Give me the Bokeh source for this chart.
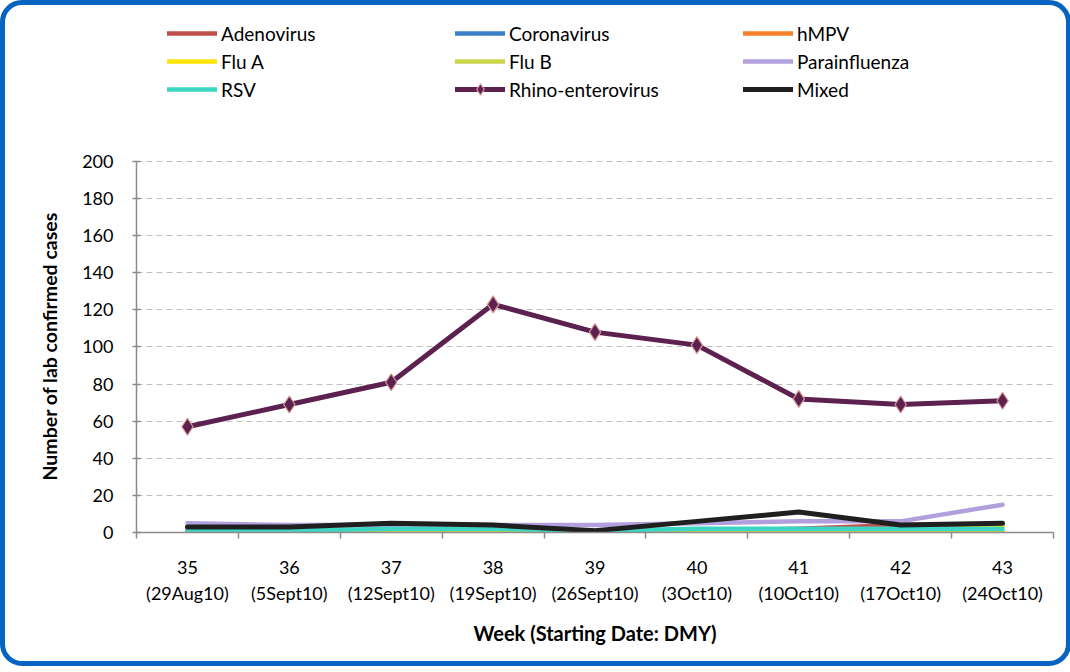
from bokeh.plotting import figure
from bokeh.models import (Legend, LegendItem, LinearAxis, FixedTicker, Range1d, Grid, Title)
from bokeh.embed import file_html
from bokeh.resources import INLINE

# ---- data ----
weeks = [35, 36, 37, 38, 39, 40, 41, 42, 43]
week_labels = ["35", "36", "37", "38", "39", "40", "41", "42", "43"]
date_labels = ["(29Aug10)", "(5Sept10)", "(12Sept10)", "(19Sept10)", "(26Sept10)",
               "(3Oct10)", "(10Oct10)", "(17Oct10)", "(24Oct10)"]
y_ticks = [0, 20, 40, 60, 80, 100, 120, 140, 160, 180, 200]

adenovirus = [1, 1, 1, 1, 0, 1, 2, 4, 4]
coronavirus = [0, 0, 0, 0, 0, 0, 0, 0, 0]
hmpv = [0, 0, 0, 0, 0, 0, 0, 0, 0]
flu_a = [0, 0, 0, 0, 0, 0, 0, 1, 3]
flu_b = [0, 0, 0, 0, 0, 0, 0, 0, 0]
parainfluenza = [5, 4, 4, 4, 4, 5, 6, 6, 15]
rsv = [1, 1, 2, 2, 1, 2, 2, 2, 2]
rhino_enterovirus = [57, 69, 81, 123, 108, 101, 72, 69, 71]
mixed = [3, 3, 5, 4, 1, 6, 11, 4, 5]

series_names = ["Adenovirus", "Coronavirus", "hMPV", "Flu A", "Flu B",
                "Parainfluenza", "RSV", "Rhino-enterovirus", "Mixed"]
series_values = [adenovirus, coronavirus, hmpv, flu_a, flu_b,
                 parainfluenza, rsv, rhino_enterovirus, mixed]
series_colors = ["#C0504D", "#3B7FCB", "#F5822A", "#FFE600", "#C9D64B",
                 "#B29FDE", "#3CD6C3", "#5D2150", "#1F1F1F"]

FONT = "Lato"
TICK_FS = "18px"

# The plotting frame extends above the 0-200 axis so that the legend (drawn
# inside the frame) can sit in the top band of the chart.
Y_MAX = 200
Y_TOP = 277.6

p = figure(frame_width=917, frame_height=515,
           min_border_left=131, min_border_right=13, min_border_top=12, min_border_bottom=129,
           output_backend="svg", toolbar_location=None,
           x_range=Range1d(34.5, 43.5), y_range=Range1d(0, Y_TOP),
           x_axis_type=None, y_axis_type=None)
p.outline_line_color = None
p.border_fill_color = None
p.background_fill_color = "white"
p.styles = {"border": "5px solid #0563C1", "border-radius": "22px", "overflow": "hidden",
            "background": "white"}

# y axis
yaxis = LinearAxis(ticker=FixedTicker(ticks=y_ticks), bounds=(0, Y_MAX),
                   major_label_text_font=FONT, major_label_text_font_size=TICK_FS,
                   major_label_text_color="#000000", major_label_standoff=19,
                   axis_line_color="#8C8C8C", axis_line_width=1.5,
                   major_tick_line_color="#8C8C8C", major_tick_line_width=1.5,
                   major_tick_in=4, major_tick_out=4,
                   minor_tick_line_color=None)
p.add_layout(yaxis, "left")

ytitle = Title(text="Number of lab confirmed cases", align="left", offset=52,
               text_font=FONT, text_font_size="19.5px", text_font_style="bold",
               text_color="#000000", standoff=38)
p.add_layout(ytitle, "left")

grid = Grid(dimension=1, ticker=FixedTicker(ticks=y_ticks[1:]),
            grid_line_color="#BEBEBE", grid_line_dash="6 4", grid_line_width=1)
p.add_layout(grid)

# x axis (week numbers, ticks between categories)
minor = [w - 0.5 for w in weeks] + [weeks[-1] + 0.5]
xaxis1 = LinearAxis(ticker=FixedTicker(ticks=weeks, minor_ticks=minor),
                    major_label_overrides={w: l for w, l in zip(weeks, week_labels)},
                    major_label_text_font=FONT, major_label_text_font_size=TICK_FS,
                    major_label_text_color="#000000", major_label_standoff=22,
                    axis_line_color="#8C8C8C", axis_line_width=1.5,
                    major_tick_line_color=None, major_tick_in=0, major_tick_out=0,
                    minor_tick_line_color="#8C8C8C", minor_tick_line_width=1.5,
                    minor_tick_in=0, minor_tick_out=6)
p.add_layout(xaxis1, "below")

xaxis2 = LinearAxis(ticker=FixedTicker(ticks=weeks),
                    major_label_overrides={w: l for w, l in zip(weeks, date_labels)},
                    major_label_text_font=FONT, major_label_text_font_size=TICK_FS,
                    major_label_text_color="#000000", major_label_standoff=5,
                    axis_line_color=None, major_tick_line_color=None,
                    minor_tick_line_color=None, major_tick_in=0, major_tick_out=0,
                    axis_label="Week (Starting Date: DMY)",
                    axis_label_text_font=FONT, axis_label_text_font_size="20px",
                    axis_label_text_font_style="bold", axis_label_text_color="#000000",
                    axis_label_standoff=14)
p.add_layout(xaxis2, "below")

items = []
for name, vals, col in zip(series_names, series_values, series_colors):
    lw = 5 if name in ("Rhino-enterovirus", "Mixed") else 4.5
    r = p.line(weeks, vals, line_color=col, line_width=lw,
               line_cap="round", line_join="round")
    rs = [r]
    if name == "Rhino-enterovirus":
        m = p.scatter(weeks, vals, marker="diamond", size=17,
                      fill_color=col, line_color="#D99A96", line_width=1.2)
        rs.append(m)
    items.append(LegendItem(label=name, renderers=rs))

legend = Legend(items=items, location=(31, 429), orientation="horizontal", ncols=3,
                glyph_width=50, glyph_height=28, label_height=28, label_width=234,
                label_standoff=4, spacing=0, padding=0, margin=0,
                border_line_color=None, background_fill_alpha=0,
                label_text_font=FONT, label_text_font_size="19px",
                label_text_color="#000000")
p.add_layout(legend, "center")

open("out.html", "w").write(file_html(p, INLINE))
